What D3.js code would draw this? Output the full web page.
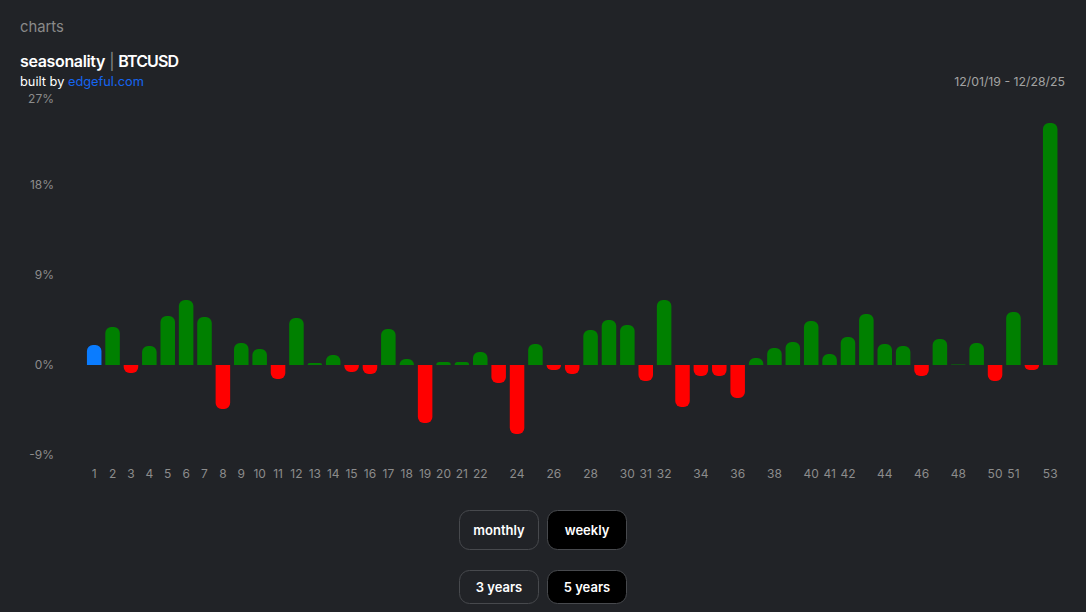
<!DOCTYPE html>
<html><head><meta charset="utf-8">
<script src="https://cdn.jsdelivr.net/npm/d3@7/dist/d3.min.js"></script>
<style>
html,body{margin:0;padding:0;background:#212327;overflow:hidden}
svg{display:block}
text{font-family:Inter,"Noto Sans",sans-serif}
</style></head><body><svg id="c" width="1086" height="612"></svg>
<script>
const weeks = d3.range(1, 54);
const values = [2.0,3.8,-0.8,1.9,4.9,6.5,4.8,-4.4,2.2,1.6,-1.4,4.7,0.2,1.0,-0.7,-0.9,3.6,0.6,-5.8,0.3,0.3,1.3,-1.8,-6.9,2.1,-0.5,-0.9,3.5,4.5,4.0,-1.6,6.5,-4.2,-1.1,-1.1,-3.3,0.7,1.7,2.3,4.4,1.1,2.8,5.1,2.1,1.9,-1.1,2.6,0.05,2.2,-1.6,5.3,-0.5,24.2];
const xTickLabels = [1,2,3,4,5,6,7,8,9,10,11,12,13,14,15,16,17,18,19,20,21,22,24,26,28,30,31,32,34,36,38,40,41,42,44,46,48,50,51,53];
const yTickValues = [-9,0,9,18,27];
const highlightWeek = 1;
const colUp = "#008000", colDown = "#ff0000", colHi = "#0a7cff";

const svg = d3.select("#c");
const x = d3.scaleBand().domain(weeks).range([85, 1059.4]).paddingInner(0.21).paddingOuter(0.105);
const y = d3.scaleLinear().domain([-9, 27]).range([455, 95]);

function barPath(d, i){
  const x0 = x(weeks[i]), w = x.bandwidth(), yz = y(0), yv = y(d);
  const h = Math.abs(yv - yz), r = Math.min(6, h), s = d >= 0 ? -1 : 1;
  const p = d3.path();
  p.moveTo(x0, yz);
  p.lineTo(x0, yv - s*r);
  p.arcTo(x0, yv, x0 + r, yv, r);
  p.lineTo(x0 + w - r, yv);
  p.arcTo(x0 + w, yv, x0 + w, yv - s*r, r);
  p.lineTo(x0 + w, yz);
  p.closePath();
  return p.toString();
}
svg.append("g").selectAll("path").data(values).join("path")
  .attr("d", barPath)
  .attr("fill", (d,i) => weeks[i] === highlightWeek ? colHi : d >= 0 ? colUp : colDown);

const ax = d3.axisBottom(x).tickValues(xTickLabels).tickSize(0).tickPadding(0);
const gx = svg.append("g").attr("transform","translate(0,470)").call(ax);
gx.select(".domain").remove();
gx.selectAll("text").attr("fill","#8c8c8c").attr("font-size",12).attr("dy","0.7em");

const ay = d3.axisLeft(y).tickValues(yTickValues).tickSize(0).tickPadding(0).tickFormat(d => d + "%");
const gy = svg.append("g").attr("transform","translate(54,-1)").call(ay);
gy.select(".domain").remove();
gy.selectAll("text").attr("fill","#8c8c8c").attr("font-size",12).attr("dy","0.35em");
gy.selectAll(".tick").filter(d => d === 27).select("text").attr("dy","0.68em");

function t(s, px, py, size, fill, weight, anchor){
  return svg.append("text").attr("x",px).attr("y",py).attr("font-size",size).attr("fill",fill)
    .attr("font-weight",weight||400).attr("text-anchor",anchor||"start").text(s);
}
t("charts",20,32,14.8,"#8a8a8a");
const title = t("seasonality",20,67,16,"#fff",600).attr("letter-spacing",-0.35);
title.append("tspan").attr("fill","#888").attr("font-weight",400).text(" | ");
title.append("tspan").attr("letter-spacing",-0.9).text("BTCUSD");
const built = t("built by ",20,86,12.8,"#fff",400);
built.append("tspan").attr("fill","#1565f0").text("edgeful.com");
t("12/01/19 - 12/28/25",1065,86,12.3,"#a3a3a3",400,"end");

const btnRows = [
  {y:510,h:40,items:[{label:"monthly",active:false},{label:"weekly",active:true}]},
  {y:570,h:34,items:[{label:"3 years",active:false},{label:"5 years",active:true}]}
];
btnRows.forEach(row=>{
  row.items.forEach((b,i)=>{
    const bx = 459.5 + i*88;
    svg.append("rect").attr("x",bx).attr("y",row.y+.5).attr("width",79).attr("height",row.h-1).attr("rx",10)
      .attr("fill",b.active?"#000":"none").attr("stroke","#47494d");
    t(b.label,bx+39.5,row.y+row.h/2+4.5,13,"#fff",600,"middle");
  });
});
</script></body></html>
